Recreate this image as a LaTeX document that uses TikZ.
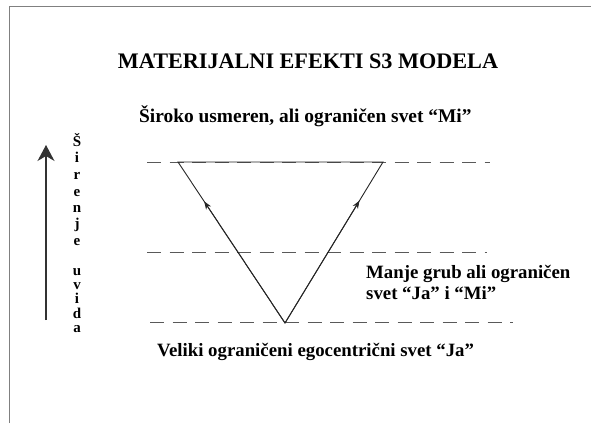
\documentclass[tikz,border=0pt]{standalone}
\usepackage{fontspec}
\setmainfont{Liberation Serif}
\usetikzlibrary{arrows.meta,calc}
\begin{document}
\begin{tikzpicture}[x=1pt,y=-1pt,
  frameline/.style={draw=black!50,line width=1.5pt},
  guide/.style={draw=black!65,line width=0.8pt,dash pattern=on 14pt off 8.5pt},
  side/.style={draw=black!85,line width=0.9pt},
  bodytext/.style={font=\fontsize{18.8}{21}\selectfont\bfseries,anchor=base west,inner sep=0pt},
  vletter/.style={font=\fontsize{15}{16}\selectfont\bfseries,anchor=base,inner sep=0pt}]
\useasboundingbox (0,0) rectangle (591,423);
% frame
\draw[frameline] (9.5,423) -- (9.5,6.5) -- (591,6.5);
% title and labels
\node[font=\fontsize{22.2}{26}\selectfont\bfseries,anchor=base,inner sep=0pt] (title) at (308,68) {MATERIJALNI EFEKTI S3 MODELA};
\node[font=\fontsize{19.4}{22}\selectfont\bfseries,anchor=base west,inner sep=0pt] (top) at (139,122) {Široko usmeren, ali ograničen svet “Mi”};
\node[bodytext] (mid1) at (366,278) {Manje grub ali ograničen};
\node[bodytext] (mid2) at (366,299) {svet “Ja” i “Mi”};
\node[bodytext] (bot) at (157,356) {Veliki ograničeni egocentrični svet “Ja”};
% dashed levels
\coordinate (d1a) at (147,162); \coordinate (d1b) at (490,162);
\coordinate (d2a) at (147,252); \coordinate (d2b) at (487,252);
\coordinate (d3a) at (150,322); \coordinate (d3b) at (513,322);
\draw[guide] (d1a) -- (d1b);
\draw[guide] (d2a) -- (d2b);
\draw[guide] (d3a) -- (d3b);
% triangle
\coordinate (TL) at (178,162);
\coordinate (TR) at (383,162);
\coordinate (B) at (285,323);
\draw[side] (TL) -- (TR) -- (B) -- cycle;
\draw[side,-{Stealth[length=8pt,width=6pt]}] (B) -- ($(B)!0.755!(TL)$);
\draw[side,-{Stealth[length=8pt,width=6pt]}] (B) -- ($(B)!0.76!(TR)$);
% vertical arrow
\coordinate (va) at (46,320);
\coordinate (vb) at (46,145);
\draw[draw=black!80,line width=1.1pt,-{Stealth[length=16pt,width=17pt,inset=5pt]}] (va) -- (vb);
% vertical letters
\node[vletter] (l1) at (77,146) {Š};
\node[vletter] (l2) at (77,162) {i};
\node[vletter] (l3) at (77,179) {r};
\node[vletter] (l4) at (77,196) {e};
\node[vletter] (l5) at (77,212) {n};
\node[vletter] (l6) at (77,228) {j};
\node[vletter] (l7) at (77,245) {e};
\node[vletter] (l8) at (77,275) {u};
\node[vletter] (l9) at (77,289) {v};
\node[vletter] (l10) at (77,303) {i};
\node[vletter] (l11) at (77,318) {d};
\node[vletter] (l12) at (77,332) {a};
\end{tikzpicture}
\end{document}
